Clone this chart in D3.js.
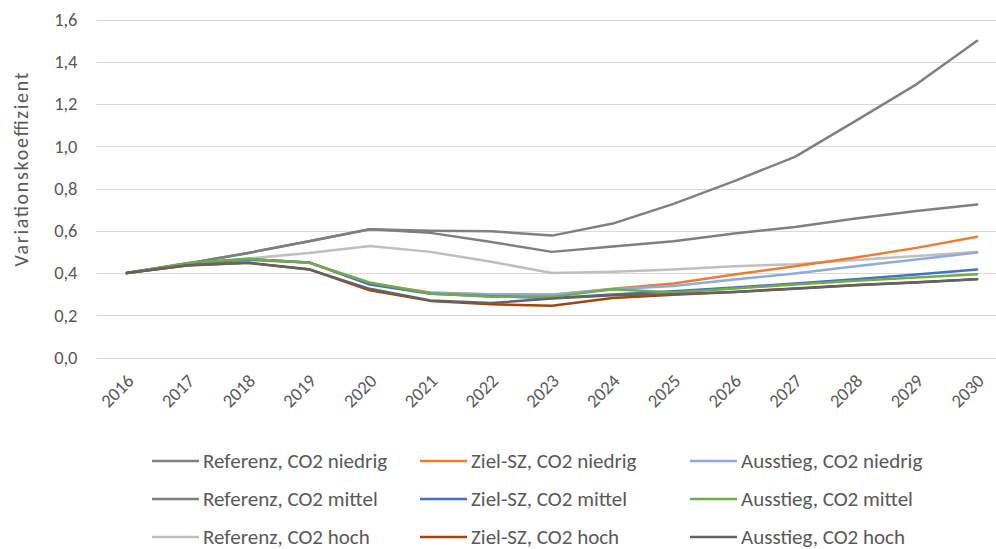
<!DOCTYPE html>
<html><head><meta charset="utf-8">
<script src="https://cdn.jsdelivr.net/npm/d3@7"></script>
<style>body{margin:0;background:#fff}svg{display:block}</style>
</head><body><svg id="c" width="996" height="549"></svg>
<script>
const years = ["2016","2017","2018","2019","2020","2021","2022","2023","2024","2025","2026","2027","2028","2029","2030"];
const yTicks = [0,0.2,0.4,0.6,0.8,1.0,1.2,1.4,1.6];
const seriesNames = ["Referenz, CO2 niedrig","Ziel-SZ, CO2 niedrig","Ausstieg, CO2 niedrig","Referenz, CO2 mittel","Ziel-SZ, CO2 mittel","Ausstieg, CO2 mittel","Referenz, CO2 hoch","Ziel-SZ, CO2 hoch","Ausstieg, CO2 hoch"];
const seriesColors = ["#808080","#ED7D31","#8FAADC","#7F7F7F","#4472C4","#70AD47","#BFBFBF","#9E480E","#636363"];
const refNiedrig = [0.40,0.445,0.495,0.55,0.607,0.60,0.598,0.577,0.634,0.727,0.835,0.95,1.12,1.293,1.499];
const zielNiedrig = [0.40,0.44,0.462,0.45,0.35,0.308,0.298,0.296,0.326,0.35,0.393,0.432,0.473,0.519,0.572];
const ausNiedrig = [0.40,0.445,0.465,0.45,0.35,0.305,0.30,0.298,0.323,0.338,0.369,0.398,0.432,0.464,0.497];
const refMittel = [0.40,0.445,0.495,0.55,0.607,0.59,0.547,0.50,0.525,0.55,0.587,0.618,0.658,0.694,0.724];
const zielMittel = [0.40,0.445,0.465,0.45,0.345,0.302,0.29,0.282,0.298,0.314,0.331,0.35,0.371,0.393,0.417];
const ausMittel = [0.40,0.447,0.467,0.448,0.355,0.303,0.287,0.287,0.323,0.308,0.327,0.345,0.363,0.379,0.394];
const refHoch = [0.40,0.44,0.469,0.495,0.528,0.50,0.453,0.40,0.406,0.417,0.432,0.442,0.461,0.48,0.499];
const zielHoch = [0.40,0.435,0.448,0.418,0.318,0.268,0.252,0.245,0.282,0.297,0.31,0.327,0.343,0.356,0.371];
const ausHoch = [0.40,0.437,0.448,0.417,0.325,0.27,0.258,0.279,0.295,0.30,0.31,0.325,0.342,0.355,0.37];
const seriesValues = [refNiedrig,zielNiedrig,ausNiedrig,refMittel,zielMittel,ausMittel,refHoch,zielHoch,ausHoch];
// draw order (back to front)
const drawOrder = [0,3,6,1,2,4,5,7,8];

const svg = d3.select("#c");
const font = "Carlito, Calibri, Lato, sans-serif";
const pLeft = 96.5, pRight = 1007.5, pTop = 19.5, pBottom = 357.5;
const x = d3.scalePoint().domain(years).range([pLeft, pRight]).padding(0.5);
const y = d3.scaleLinear().domain([0,1.6]).range([pBottom, pTop]);

// gridlines
svg.append("g").selectAll("line").data(yTicks).join("line")
  .attr("x1", pLeft).attr("x2", pRight)
  .attr("y1", d => Math.round(y(d)) + 0.5).attr("y2", d => Math.round(y(d)) + 0.5)
  .attr("stroke", "#D9D9D9").attr("stroke-width", 1);

// y axis labels
const yAxis = d3.axisLeft(y).tickValues(yTicks).tickSize(0).tickPadding(0)
  .tickFormat(d => d3.format(".1f")(d).replace(".", ","));
const gy = svg.append("g").attr("transform", `translate(${pLeft - 19},0)`).call(yAxis);
gy.select(".domain").remove();
gy.selectAll("text").attr("fill", "#595959").attr("font-size", "18.5px").attr("font-family", font);

// x axis labels
const xAxis = d3.axisBottom(x).tickSize(0).tickPadding(0);
const gx = svg.append("g").attr("transform", `translate(0,${pBottom + 20})`).call(xAxis);
gx.select(".domain").remove();
gx.selectAll("text").attr("fill", "#595959").attr("font-size", "18.5px").attr("font-family", font)
  .attr("text-anchor", "end").attr("dy", "0.35em")
  .attr("transform", "translate(3,0) rotate(-45)");

// y title
svg.append("text").attr("transform", `translate(28,${(72 + 267) / 2}) rotate(-90)`)
  .attr("text-anchor", "middle").attr("fill", "#595959").attr("font-size", "20px").attr("font-family", font)
  .attr("textLength", 194).attr("lengthAdjust", "spacing")
  .text("Variationskoeffizient");

// lines
const line = d3.line().x((d, i) => x(years[i])).y(d => y(d));
svg.append("g").selectAll("path").data(drawOrder).join("path")
  .attr("d", i => line(seriesValues[i]))
  .attr("fill", "none").attr("stroke", i => seriesColors[i])
  .attr("stroke-width", 2.5).attr("stroke-linejoin", "round").attr("stroke-linecap", "round");

// legend
const colX = [152, 420, 690];
const rowY = [461, 499, 537];
const lg = svg.append("g");
seriesNames.forEach((name, i) => {
  const cx = colX[i % 3], cy = rowY[Math.floor(i / 3)];
  lg.append("line").attr("x1", cx).attr("x2", cx + 47).attr("y1", cy).attr("y2", cy)
    .attr("stroke", seriesColors[i]).attr("stroke-width", 2.5);
  lg.append("text").attr("x", cx + 51).attr("y", cy).attr("dy", "0.35em")
    .attr("fill", "#595959").attr("font-size", "21px").attr("font-family", font).text(name);
});
</script></body></html>
